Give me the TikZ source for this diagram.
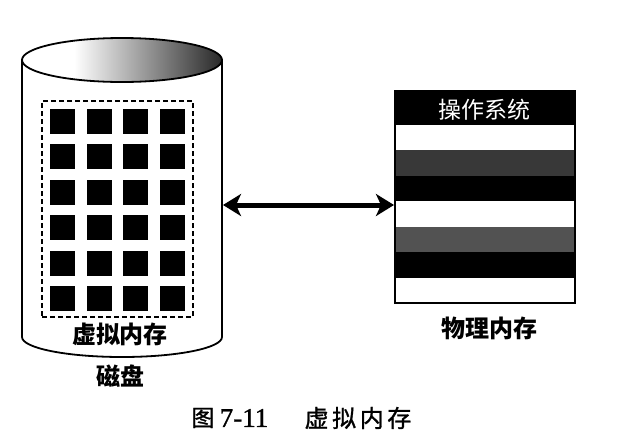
\documentclass[tikz,border=0pt]{standalone}
\usepackage{fontspec}
\setmainfont{Liberation Serif}
\newfontfamily\cjk{Noto Sans CJK SC}
\newfontfamily\cjkcap[LetterSpace=15,FakeBold=1.2]{Noto Sans CJK SC}
\newfontfamily\capnum[FakeBold=1.2]{Liberation Serif}
\usetikzlibrary{arrows.meta}
\pgfdeclarehorizontalshading{lid}{100bp}{color(0bp)=(white); color(38bp)=(white); color(82bp)=(black); color(100bp)=(black)}
\tikzset{
  cell/.style={fill=black, minimum size=25pt, inner sep=0pt},
  lbl/.style={font=\cjk\bfseries\fontsize{24}{24}\selectfont, inner sep=0pt},
  outline/.style={line width=1.8pt},
  biarrow/.style={line width=5pt, {Stealth[length=18pt,width=22pt,inset=5pt]}-{Stealth[length=18pt,width=22pt,inset=5pt]}}
}
\begin{document}
\begin{tikzpicture}[x=1pt,y=-1pt]
  \useasboundingbox[fill=white] (0,0) rectangle (625,445);
  % disk
  \fill[white] (22,60) -- (22,337) arc[start angle=180,end angle=0,x radius=100,y radius=20] -- (222,60) -- cycle;
  \draw[outline] (22,60) -- (22,337) arc[start angle=180,end angle=0,x radius=100,y radius=20] -- (222,60);
  \shade[shading=lid, draw=black, outline] (122,60) ellipse[x radius=100, y radius=22];
  \node[draw, dash pattern=on 5pt off 3pt, line width=1.5pt, minimum width=151pt, minimum height=216pt, inner sep=0pt] (vm) at (117.5,209) {};
  \foreach \i in {0,...,3} {
      \foreach \j in {0,...,5} {
          \node[cell] (c\i\j) at ({62.5+36.5*\i},{121+35.5*\j}) {};
        }
    }
  \node[lbl] (vmlbl) at (120,334) {虚拟内存};
  \node[lbl] (disklbl) at (120,376) {磁盘};
  % physical memory
  \fill[black] (395,91) rectangle (575,125);
  \foreach \c [count=\i from 0] in {white,black!78,black,white,black!68,black,white} {
      \fill[\c] (395,{125+25.43*\i}) rectangle ++(180,25.43);
    }
  \node[draw, outline, minimum width=180pt, minimum height=212pt, inner sep=0pt] (mem) at (485,197) {};
  \node[font=\cjk\fontsize{23}{23}\selectfont, text=white, inner sep=0pt] (os) at (484,110) {操作系统};
  \node[lbl] (memlbl) at (489,328) {物理内存};
  % arrow
  \coordinate (dskR) at (223,205);
  \coordinate (memL) at (394,205);
  \draw[biarrow] (dskR) -- (memL);
  % caption
  \node[font=\cjkcap\fontsize{23}{23}\selectfont, inner sep=0pt] (fig) at (203,418) {图};
  \node[font=\capnum\fontsize{27}{27}\selectfont, inner sep=0pt] (fignum) at (244,418) {7-11};
  \node[font=\cjkcap\fontsize{24}{24}\selectfont, inner sep=0pt] (figttl) at (358,418) {虚拟内存};
\end{tikzpicture}
\end{document}
